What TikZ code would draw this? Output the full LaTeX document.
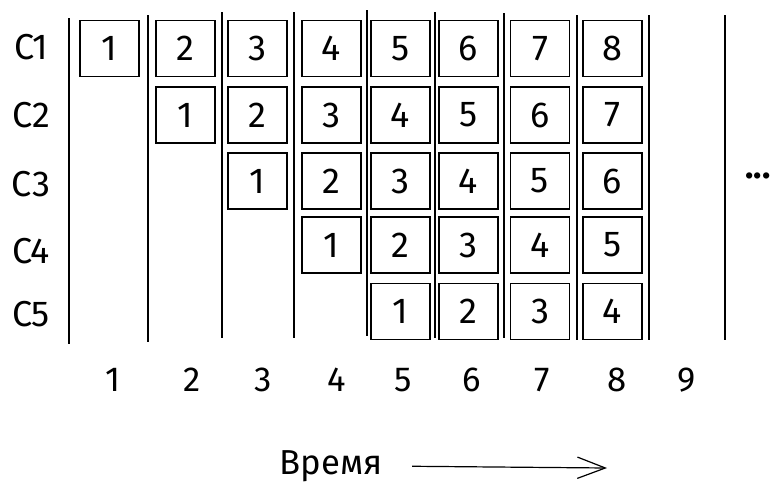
\documentclass[tikz,border=0pt]{standalone}
\usepackage{fontspec}
\setmainfont{Fira Sans}
\usetikzlibrary{arrows.meta}

\begin{document}
\begin{tikzpicture}[x=0.75pt,y=-0.75pt,
    cell/.style={draw,line width=1.1pt,minimum width=44pt,minimum height=42pt,inner sep=0pt,font=\fontsize{27}{32}\selectfont},
    rowlabel/.style={font=\fontsize{27}{32}\selectfont,inner sep=0pt},
    ticklabel/.style={font=\fontsize{26}{31}\selectfont,inner sep=0pt},
    timearrow/.style={line width=0.9pt,-{Straight Barb[length=21pt,width=16pt,line width=0.9pt]}}]
    
\def\LINECOLOR{black}
	\useasboundingbox (0,0) rectangle (784,500);
	% time slots
	\draw[\LINECOLOR,line width=1.1pt] (69,18) -- (69,344);
	\draw[\LINECOLOR,line width=1.1pt] (148,15) -- (148,342);
	\draw[\LINECOLOR,line width=1.1pt] (222,12) -- (222,338);
	\draw[\LINECOLOR,line width=1.1pt] (294,12) -- (294,338);
	\draw[\LINECOLOR,line width=1.1pt] (367,10) -- (367,336);
	\draw[\LINECOLOR,line width=1.1pt] (435,12) -- (435,338);
	\draw[\LINECOLOR,line width=1.1pt] (504,13) -- (504,338);
	\draw[\LINECOLOR,line width=1.1pt] (577,15) -- (577,340);
	\draw[\LINECOLOR,line width=1.1pt] (649,15) -- (649,340);
	\draw[\LINECOLOR,line width=1.1pt] (725,15) -- (725,340);
	% rows
	\node[rowlabel] (c1) at (31,47) {C1};
	\node[rowlabel] (c2) at (31,115) {C2};
	\node[rowlabel] (c3) at (31,184) {C3};
	\node[rowlabel] (c4) at (31,251) {C4};
	\node[rowlabel] (c5) at (31,314) {C5};
	% C1
	\node[cell] (b11) at (109.5,48.5) {1};
	\node[cell] (b21) at (185.5,48.5) {2};
	\node[cell] (b31) at (257.5,48.5) {3};
	\node[cell] (b41) at (331.5,48.5) {4};
	\node[cell] (b51) at (400.5,48.5) {5};
	\node[cell] (b61) at (468.5,48.5) {6};
	\node[cell] (b71) at (540,48.5) {7};
	\node[cell] (b81) at (612.5,48.5) {8};
	% C2
	\node[cell] (b22) at (185.5,115) {1};
	\node[cell] (b32) at (257.5,115) {2};
	\node[cell] (b42) at (331.5,115) {3};
	\node[cell] (b52) at (400.5,115) {4};
	\node[cell] (b62) at (468.5,115) {5};
	\node[cell] (b72) at (540,115) {6};
	\node[cell] (b82) at (612.5,115) {7};
	% C3
	\node[cell] (b33) at (257.5,181) {1};
	\node[cell] (b43) at (331.5,181) {2};
	\node[cell] (b53) at (400.5,181) {3};
	\node[cell] (b63) at (468.5,181) {4};
	\node[cell] (b73) at (540,181) {5};
	\node[cell] (b83) at (612.5,181) {6};
	% C4
	\node[cell] (b44) at (331.5,245) {1};
	\node[cell] (b54) at (400.5,245) {2};
	\node[cell] (b64) at (468.5,245) {3};
	\node[cell] (b74) at (540,245) {4};
	\node[cell] (b84) at (612.5,245) {5};
	% C5
	\node[cell] (b55) at (400.5,311.5) {1};
	\node[cell] (b65) at (468.5,311.5) {2};
	\node[cell] (b75) at (540,311.5) {3};
	\node[cell] (b85) at (612.5,311.5) {4};
	\node[ticklabel] (dots) at (758,176) {\textbf{...}};
	% time axis
	\node[ticklabel] (t1) at (113,380) {1};
	\node[ticklabel] (t2) at (192,380) {2};
	\node[ticklabel] (t3) at (263,380) {3};
	\node[ticklabel] (t4) at (337,380) {4};
	\node[ticklabel] (t5) at (403,380) {5};
	\node[ticklabel] (t6) at (472,380) {6};
	\node[ticklabel] (t7) at (542,380) {7};
	\node[ticklabel] (t8) at (617,380) {8};
	\node[ticklabel] (t9) at (687,380) {9};
	\node[font=\fontsize{26}{31}\selectfont,inner sep=0pt] (time) at (331,466) {Время};
	\coordinate (timeend) at (607,468);
	\draw[timearrow,shorten <=22pt] (time.east) -- (timeend);

          \end{tikzpicture}
\end{document}
